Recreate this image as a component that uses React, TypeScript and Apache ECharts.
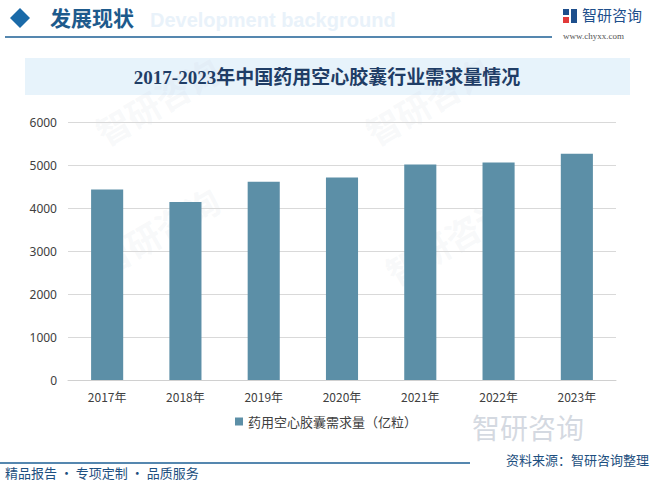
import React, { useEffect, useRef } from "react";
import * as echarts from "echarts";

const categories = ["2017年", "2018年", "2019年", "2020年", "2021年", "2022年", "2023年"];
const demandValues = [4430, 4140, 4610, 4710, 5010, 5060, 5260];
const seriesName = "药用空心胶囊需求量（亿粒）";
const chartTitle = "2017-2023年中国药用空心胶囊行业需求量情况";

export default function App() {
  const ref = useRef<HTMLDivElement>(null);
  useEffect(() => {
    if (!ref.current) return;
    const chart = echarts.init(ref.current, undefined, { renderer: "svg" });
    const wm: any[] = [];
    const wmPos = [
      [90, 120], [360, 120], [90, 250], [380, 260],
    ];
    wmPos.forEach(([x, y]) => {
      wm.push({
        type: "text",
        x,
        y,
        rotation: Math.PI / 6,
        silent: true,
        z: 0,
        style: {
          text: "智研咨询",
          fill: "rgba(200,210,220,0.14)",
          font: "bold 34px 'Noto Sans CJK SC'",
        },
      });
    });
    chart.setOption({
      animation: false,
      backgroundColor: "#ffffff",
      grid: { left: 68, right: 36, top: 122, bottom: 107 },
      xAxis: {
        type: "category",
        data: categories,
        axisLine: { lineStyle: { color: "#d0d0d0" } },
        axisTick: { show: false },
        axisLabel: { color: "#404040", fontSize: 12, margin: 10, fontFamily: "'Noto Sans CJK SC', sans-serif" },
      },
      yAxis: {
        type: "value",
        min: 0,
        max: 6000,
        interval: 1000,
        axisLine: { show: false },
        axisTick: { show: false },
        splitLine: { lineStyle: { color: "#d9d9d9" } },
        axisLabel: {
          color: "#404040",
          fontSize: 12,
          margin: 11,
          fontFamily: "'Noto Sans', sans-serif",
          formatter: (v: number) => String(v),
        },
      },
      legend: {
        data: [seriesName],
        bottom: 54,
        left: "center",
        itemWidth: 8,
        itemHeight: 8,
        icon: "rect",
        textStyle: { color: "#404040", fontSize: 13, fontFamily: "'Noto Sans CJK SC', sans-serif" },
      },
      series: [
        {
          name: seriesName,
          type: "bar",
          data: demandValues,
          barWidth: "41%",
          itemStyle: { color: "#5c8fa7" },
        },
      ],
      graphic: [
        ...wm,
        {
          type: "text",
          x: 150,
          y: 10,
          silent: true,
          style: { text: "Development background", fill: "#e9f2fa", font: "bold 20px 'Liberation Sans', Arial" },
        },
        {
          type: "polygon",
          shape: { points: [[20, 8], [30, 18], [20, 28], [10, 18]] },
          style: { fill: "#1a6aa8" },
        },
        {
          type: "text",
          x: 50,
          y: 6,
          style: { text: "发展现状", fill: "#1d5a8c", font: "bold 21px 'Noto Sans CJK SC'" },
        },
        {
          type: "line",
          shape: { x1: 5, y1: 37, x2: 552, y2: 37 },
          style: { stroke: "#1c5f95", lineWidth: 1.5 },
        },
        {
          type: "rect",
          shape: { x: 563, y: 9, width: 6, height: 6 },
          style: { fill: "#1e4f8c" },
        },
        {
          type: "rect",
          shape: { x: 563, y: 17, width: 6, height: 6 },
          style: { fill: "#e23a3a" },
        },
        {
          type: "rect",
          shape: { x: 571, y: 9, width: 6, height: 14 },
          style: { fill: "#1e4f8c" },
        },
        {
          type: "text",
          x: 582,
          y: 7,
          style: { text: "智研咨询", fill: "#1e4f8c", font: "15px 'Noto Sans CJK SC'" },
        },
        {
          type: "text",
          x: 563,
          y: 31,
          style: { text: "www.chyxx.com", fill: "#555", font: "9px 'Liberation Serif'" },
        },
        {
          type: "rect",
          shape: { x: 25, y: 58, width: 605, height: 37 },
          style: { fill: "#e7f3fb" },
          z: -1,
        },
        {
          type: "text",
          x: 327,
          y: 77,
          style: {
            text: chartTitle,
            fill: "#1f3d66",
            font: "bold 19px 'Liberation Serif', 'Noto Sans CJK SC'",
            align: "center",
            verticalAlign: "middle",
          },
        },
        {
          type: "text",
          x: 472,
          y: 413,
          style: { text: "智研咨询", fill: "rgba(170,180,195,0.5)", font: "28px 'Noto Sans CJK SC'" },
        },
        {
          type: "line",
          shape: { x1: 0, y1: 463, x2: 470, y2: 463 },
          style: { stroke: "#1c5f95", lineWidth: 1.5 },
        },
        {
          type: "text",
          x: 5,
          y: 466,
          style: { text: "精品报告 · 专项定制 · 品质服务", fill: "#1d4f80", font: "13px 'Noto Sans CJK SC'" },
        },
        {
          type: "text",
          x: 506,
          y: 453,
          style: { text: "资料来源：智研咨询整理", fill: "#1d4f80", font: "13px 'Noto Sans CJK SC'" },
        },
      ],
    });
    return () => chart.dispose();
  }, []);
  return <div ref={ref} style={{ position: "absolute", left: 0, top: 0, width: 652, height: 487 }} />;
}
